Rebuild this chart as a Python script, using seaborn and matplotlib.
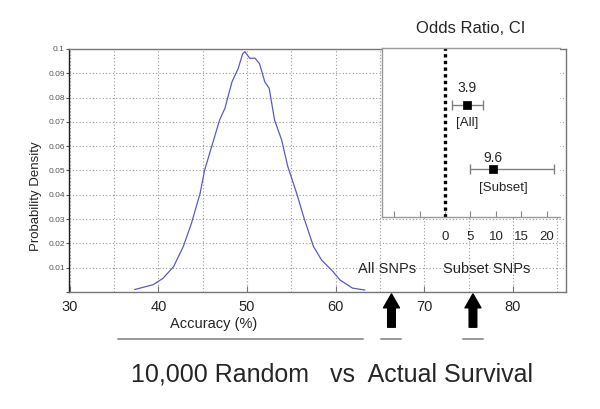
import numpy as np
import pandas as pd
import matplotlib
matplotlib.use('Agg')
import matplotlib.pyplot as plt
import matplotlib.transforms as mtransforms
import seaborn as sns

sns.set_theme(style='white')
plt.rcParams['font.family'] = ['Liberation Sans', 'DejaVu Sans']

# null distribution of accuracy (10,000 random SNP sets)
accuracy = [37.3, 39.4, 40.5, 41.7, 42.8, 43.7, 44.7, 45.2, 46.0, 46.9, 47.5,
            48.3, 49.0, 49.5, 49.75, 50.3, 50.9, 51.4, 52.0, 52.5, 53.1, 53.9,
            54.6, 55.6, 56.5, 57.5, 58.4, 59.7, 60.5, 61.9, 63.3]
density = [0.001, 0.003, 0.0056, 0.0104, 0.0187, 0.028, 0.0406, 0.050, 0.0598,
           0.0708, 0.0756, 0.0865, 0.092, 0.098, 0.0989, 0.0962, 0.0962, 0.094,
           0.0865, 0.0838, 0.0708, 0.0626, 0.0516, 0.0406, 0.0296, 0.0187,
           0.0132, 0.0084, 0.0049, 0.0016, 0.0008]
random_span = [35.4, 63.1]

# actual survival accuracy
snp_sets = ['All SNPs', 'Subset SNPs']
actual_acc = [66.3, 75.5]

# odds ratios with CI
or_groups = ['[All]', '[Subset]']
or_point = [4.4, 9.4]
or_low = [1.3, 5.0]
or_high = [7.5, 21.4]
or_text = ['3.9', '9.6']

df = pd.DataFrame({'acc': accuracy, 'dens': density})
df_or = pd.DataFrame({'group': or_groups, 'or': or_point, 'lo': or_low,
                      'hi': or_high, 'row': [1, 2]})

fig = plt.figure(figsize=(6, 4.09), dpi=100)
ax = fig.add_axes([0.115, 0.2861, 0.8283, 0.5941])

sns.lineplot(data=df, x='acc', y='dens', ax=ax, color='#5a5ac8', lw=0.9, sort=False)
ax.set_xlim(29.9, 86.0)
ax.set_ylim(0, 0.1)
ax.set_xticks(np.arange(30, 81, 10))
ax.set_xticks(np.arange(35, 86, 10), minor=True)
ax.set_yticks(np.arange(0, 0.101, 0.01))
ax.set_yticklabels([''] + ['%g' % v for v in np.round(np.arange(0.01, 0.101, 0.01), 2)])
ax.grid(True, which='both', axis='x', color='#999999', ls=(0, (1, 2)), lw=0.8)
ax.grid(True, which='major', axis='y', color='#999999', ls=(0, (1, 2)), lw=0.8)
ax.tick_params(axis='x', which='major', direction='in', length=4, width=0.8,
               color='#777777', labelsize=10.5, pad=6, bottom=True)
ax.tick_params(axis='x', which='minor', length=0)
ax.tick_params(axis='y', direction='out', length=2, width=0.8, color='#555555',
               labelsize=6, labelcolor='#555555', pad=1, left=True)
for s in ['top', 'right', 'bottom']:
    ax.spines[s].set_color('#777777')
    ax.spines[s].set_linewidth(1.0)
ax.spines['left'].set_color('#222222')
ax.spines['left'].set_linewidth(1.0)

ax.set_xlabel('Accuracy (%)', fontsize=10.5)
ax.xaxis.set_label_coords(0.292, -0.105)
ax.set_ylabel('Probability Density', fontsize=9.5)
ax.yaxis.set_label_coords(-0.055, 0.395)

# arrows for actual survival accuracy and their labels
trans = mtransforms.blended_transform_factory(ax.transData, ax.transAxes)
label_x = [65.8, 77.1]
for x, name, lx in zip(actual_acc, snp_sets, label_x):
    ax.annotate('', xy=(x, -0.008), xycoords=trans, xytext=(x, -0.145),
                textcoords=trans,
                arrowprops=dict(arrowstyle='simple,head_length=1.0,head_width=1.15,tail_width=0.55',
                                mutation_scale=10, color='black', shrinkA=0, shrinkB=0))
    ax.plot([x - 1.13, x + 1.13], [-0.193, -0.193], transform=trans, clip_on=False,
            color='#999999', lw=1.4)
    ax.text(lx, 0.095, name, transform=trans, ha='center', va='center', fontsize=10.5)
ax.plot(random_span, [-0.193, -0.193], transform=trans, clip_on=False,
        color='#999999', lw=1.4)

# odds ratio inset
ins = fig.add_axes([0.6367, 0.4694, 0.2967, 0.4132])
ins.set_facecolor('white')
ins.errorbar(df_or['or'], df_or['row'],
             xerr=[df_or['or'] - df_or['lo'], df_or['hi'] - df_or['or']],
             fmt='none', ecolor='#808080', elinewidth=1.0, capsize=3.5, capthick=1.0)
sns.scatterplot(data=df_or, x='or', y='row', ax=ins, marker='s', s=40,
                color='black', edgecolor='black', zorder=3)
ins.axvline(0, color='black', ls=(0, (1, 1)), lw=2.4)
ins.set_xlim(-12.38, 22.6)
ins.set_ylim(2.74, 0.115)
ins.set_xticks([-10, -5, 0, 5, 10, 15, 20])
ins.set_xticklabels(['', '', '0', '5', '10', '15', '20'])
ins.set_yticks([])
ins.set_xlabel('')
ins.set_ylabel('')
ins.tick_params(axis='x', direction='in', length=4, width=0.8, color='#888888',
                labelsize=9.5, pad=10, bottom=True)
for s in ['left', 'bottom', 'top']:
    ins.spines[s].set_color('#999999')
    ins.spines[s].set_linewidth(1.0)
ins.spines['right'].set_visible(False)
ins.set_title('Odds Ratio, CI', fontsize=12, pad=11)

above_off = [-0.26, -0.18]
below_off = [0.275, 0.29]
below_dx = [0.0, 2.0]
for i in range(len(or_groups)):
    row = df_or['row'][i]
    ins.text(or_point[i], row + above_off[i], or_text[i], ha='center', va='center',
             fontsize=10)
    ins.text(or_point[i] + below_dx[i], row + below_off[i], or_groups[i],
             ha='center', va='center', fontsize=9.5)

fig.text(130.7 / 600, 0.0667, '10,000 Random   vs  Actual Survival',
         fontsize=18, ha='left', va='baseline')

fig.savefig('out.png', dpi=100)
